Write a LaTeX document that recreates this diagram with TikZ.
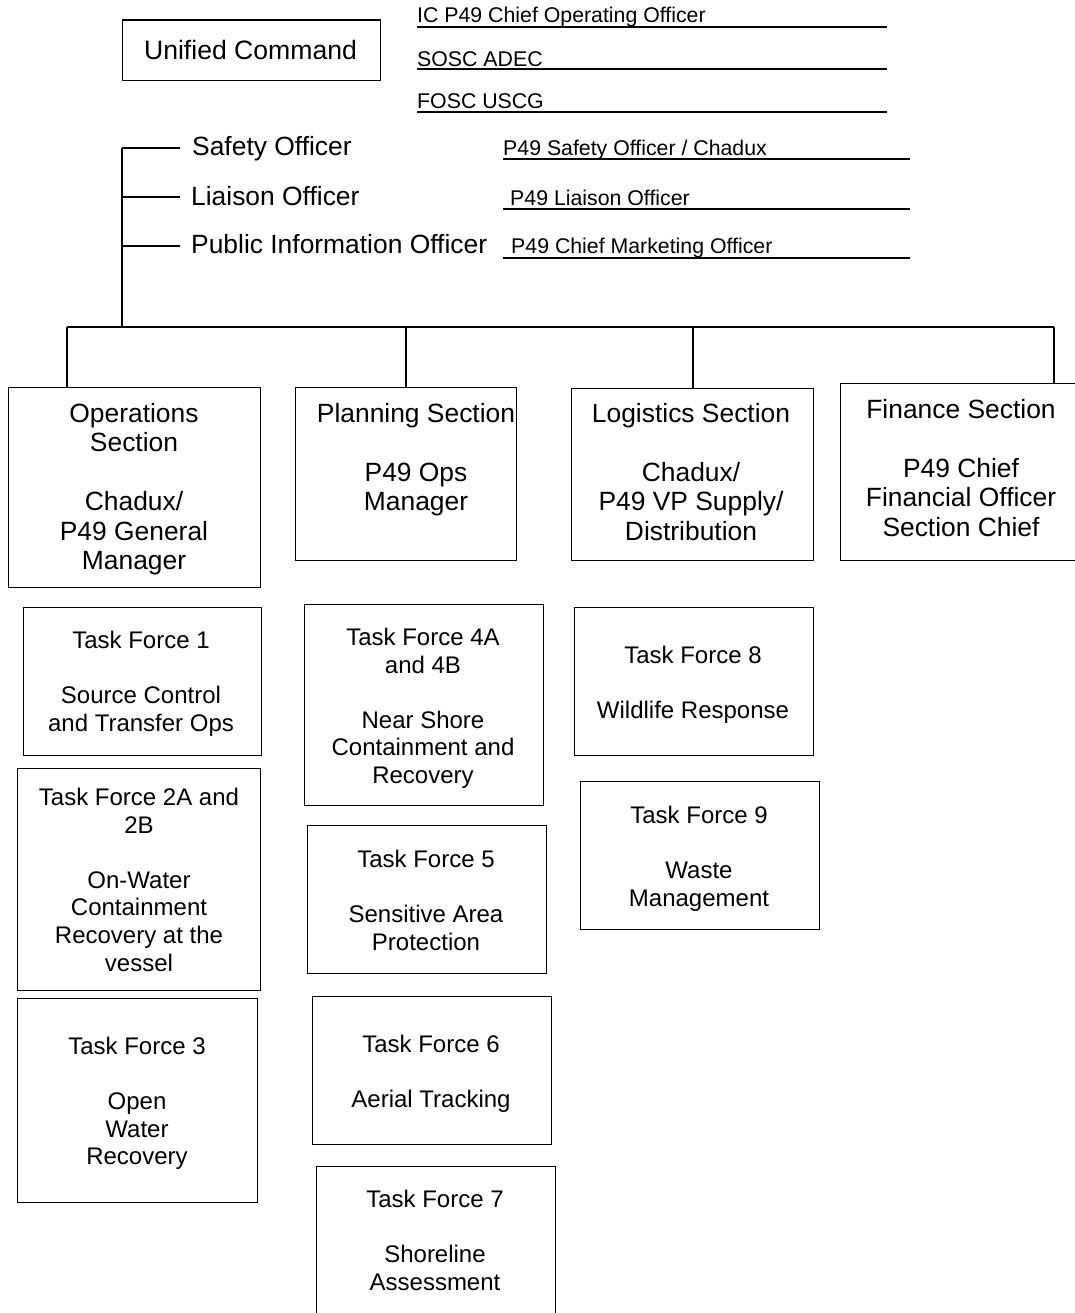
\documentclass[tikz,border=0pt]{standalone}
\usepackage{fontspec}
\setmainfont{Liberation Sans}
\begin{document}
\begin{tikzpicture}[x=1pt,y=-1pt,
  box/.style={draw, line width=1.2pt, inner sep=0pt, anchor=north west},
  conn/.style={line width=1.8pt},
  uline/.style={line width=1.8pt},
  sectxt/.style={font=\fontsize{26.4}{29.5}\selectfont, align=center, anchor=north, inner sep=0pt},
  tftxt/.style={font=\fontsize{24}{27.6}\selectfont, align=center, anchor=north, inner sep=0pt},
  offtxt/.style={font=\fontsize{26.4}{29.5}\selectfont, anchor=base west, inner sep=0pt},
  ultxt/.style={font=\fontsize{21.3}{25}\selectfont, anchor=base west, inner sep=0pt},
]
\useasboundingbox (0,0) rectangle (1075,1313);

% Unified command
\node[box, minimum width=258pt, minimum height=60.5pt] (uc) at (121.5,19.5) {};
\node[font=\fontsize{26.6}{29.5}\selectfont, anchor=base, inner sep=0pt] (uc-t) at (250.5,59.5) {Unified Command};

% Unified command members (underlined)
\node[ultxt] (ic) at (417,23) {IC P49 Chief Operating Officer};
\node[ultxt] (sosc) at (417,66.5) {SOSC ADEC};
\node[ultxt] (fosc) at (417,108.5) {FOSC USCG};
\coordinate (ic-e) at (887,27.3);
\coordinate (sosc-e) at (887,69);
\coordinate (fosc-e) at (887,112);
\draw[uline] (ic-e -| ic.west) -- (ic-e);
\draw[uline] (sosc-e -| sosc.west) -- (sosc-e);
\draw[uline] (fosc-e -| fosc.west) -- (fosc-e);

% Command staff
\node[offtxt] (safety) at (192,156) {Safety Officer};
\node[offtxt] (liaison) at (191,206) {Liaison Officer};
\node[offtxt] (pio) at (191,254) {Public Information Officer};
\coordinate (t1) at (122,148);
\coordinate (t2) at (122,197);
\coordinate (t3) at (122,246);
\draw[conn, shorten >=12pt] (t1) -- (t1 -| safety.west);
\draw[conn, shorten >=11pt] (t2) -- (t2 -| liaison.west);
\draw[conn, shorten >=11pt] (t3) -- (t3 -| pio.west);

\node[ultxt] (so) at (503,156) {P49 Safety Officer / Chadux};
\node[ultxt] (lo) at (510,206) {P49 Liaison Officer};
\node[ultxt] (cmo) at (511,254) {P49 Chief Marketing Officer};
\coordinate (so-s) at (503,159.3);
\coordinate (so-e) at (910,159.3);
\coordinate (lo-s) at (503,209.3);
\coordinate (lo-e) at (910,209.3);
\coordinate (cmo-s) at (503,257.8);
\coordinate (cmo-e) at (910,257.8);
\draw[uline] (so-s) -- (so-e);
\draw[uline] (lo-s) -- (lo-e);
\draw[uline] (cmo-s) -- (cmo-e);

% Sections
\node[box, minimum width=252pt, minimum height=200pt] (ops) at (8,387) {};
\node[box, minimum width=221pt, minimum height=173pt] (plan) at (295,387) {};
\node[box, minimum width=242pt, minimum height=172pt] (log) at (571,388) {};
\node[box, minimum width=245pt, minimum height=177pt] (fin) at (840,383) {};

\node[sectxt] (ops-t) at (134,401.5) {\strut Operations\\\strut Section\\\strut\\\strut Chadux/\\\strut P49 General\\\strut Manager};
\node[sectxt] (plan-t) at (416,401.5) {\strut Planning Section\\\strut\\\strut P49 Ops\\\strut Manager};
\node[sectxt] (log-t) at (691,401.5) {\strut Logistics Section\\\strut\\\strut Chadux/\\\strut P49 VP Supply/\\\strut Distribution};
\node[sectxt] (fin-t) at (961,397.5) {\strut Finance Section\\\strut\\\strut P49 Chief\\\strut Financial Officer\\\strut Section Chief};

% Bus
\coordinate (sp) at (122,148);
\coordinate (b1) at (67,327);
\coordinate (b2) at (406,327);
\coordinate (b3) at (693,327);
\coordinate (b4) at (1054,327);
\draw[conn] (sp) -- (sp |- b1);
\draw[conn] (b1) -- (b4);
\draw[conn] (b1) -- (b1 |- ops.north);
\draw[conn] (b2) -- (b2 |- plan.north);
\draw[conn] (b3) -- (b3 |- log.north);
\draw[conn] (b4) -- (b4 |- fin.north);

% Task forces
\node[box, minimum width=238pt, minimum height=148.5pt] (tf1) at (22.5,606.5) {};
\node[box, minimum width=243pt, minimum height=222pt] (tf2) at (17,768) {};
\node[box, minimum width=240pt, minimum height=204pt] (tf3) at (17,998) {};
\node[box, minimum width=239pt, minimum height=201pt] (tf4) at (304,604) {};
\node[box, minimum width=239pt, minimum height=148pt] (tf5) at (307,825) {};
\node[box, minimum width=239pt, minimum height=148pt] (tf6) at (312,996) {};
\node[box, minimum width=239pt, minimum height=160pt] (tf7) at (316,1166) {};
\node[box, minimum width=239pt, minimum height=148pt] (tf8) at (574,607) {};
\node[box, minimum width=239pt, minimum height=148pt] (tf9) at (580,781) {};

\node[tftxt] (tf1-t) at (141,629) {\strut Task Force 1\\\strut\\\strut Source Control\\\strut and Transfer Ops};
\node[tftxt] (tf2-t) at (139,786) {\strut Task Force 2A and\\\strut 2B\\\strut\\\strut On-Water\\\strut Containment\\\strut Recovery at the\\\strut vessel};
\node[tftxt] (tf3-t) at (137,1035) {\strut Task Force 3\\\strut\\\strut Open\\\strut Water\\\strut Recovery};
\node[tftxt] (tf4-t) at (423,626) {\strut Task Force 4A\\\strut and 4B\\\strut\\\strut Near Shore\\\strut Containment and\\\strut Recovery};
\node[tftxt] (tf5-t) at (426,848) {\strut Task Force 5\\\strut\\\strut Sensitive Area\\\strut Protection};
\node[tftxt] (tf6-t) at (431,1033) {\strut Task Force 6\\\strut\\\strut Aerial Tracking};
\node[tftxt] (tf7-t) at (435,1188) {\strut Task Force 7\\\strut\\\strut Shoreline\\\strut Assessment};
\node[tftxt] (tf8-t) at (693,644) {\strut Task Force 8\\\strut\\\strut Wildlife Response};
\node[tftxt] (tf9-t) at (699,804) {\strut Task Force 9\\\strut\\\strut Waste\\\strut Management};
\end{tikzpicture}
\end{document}
